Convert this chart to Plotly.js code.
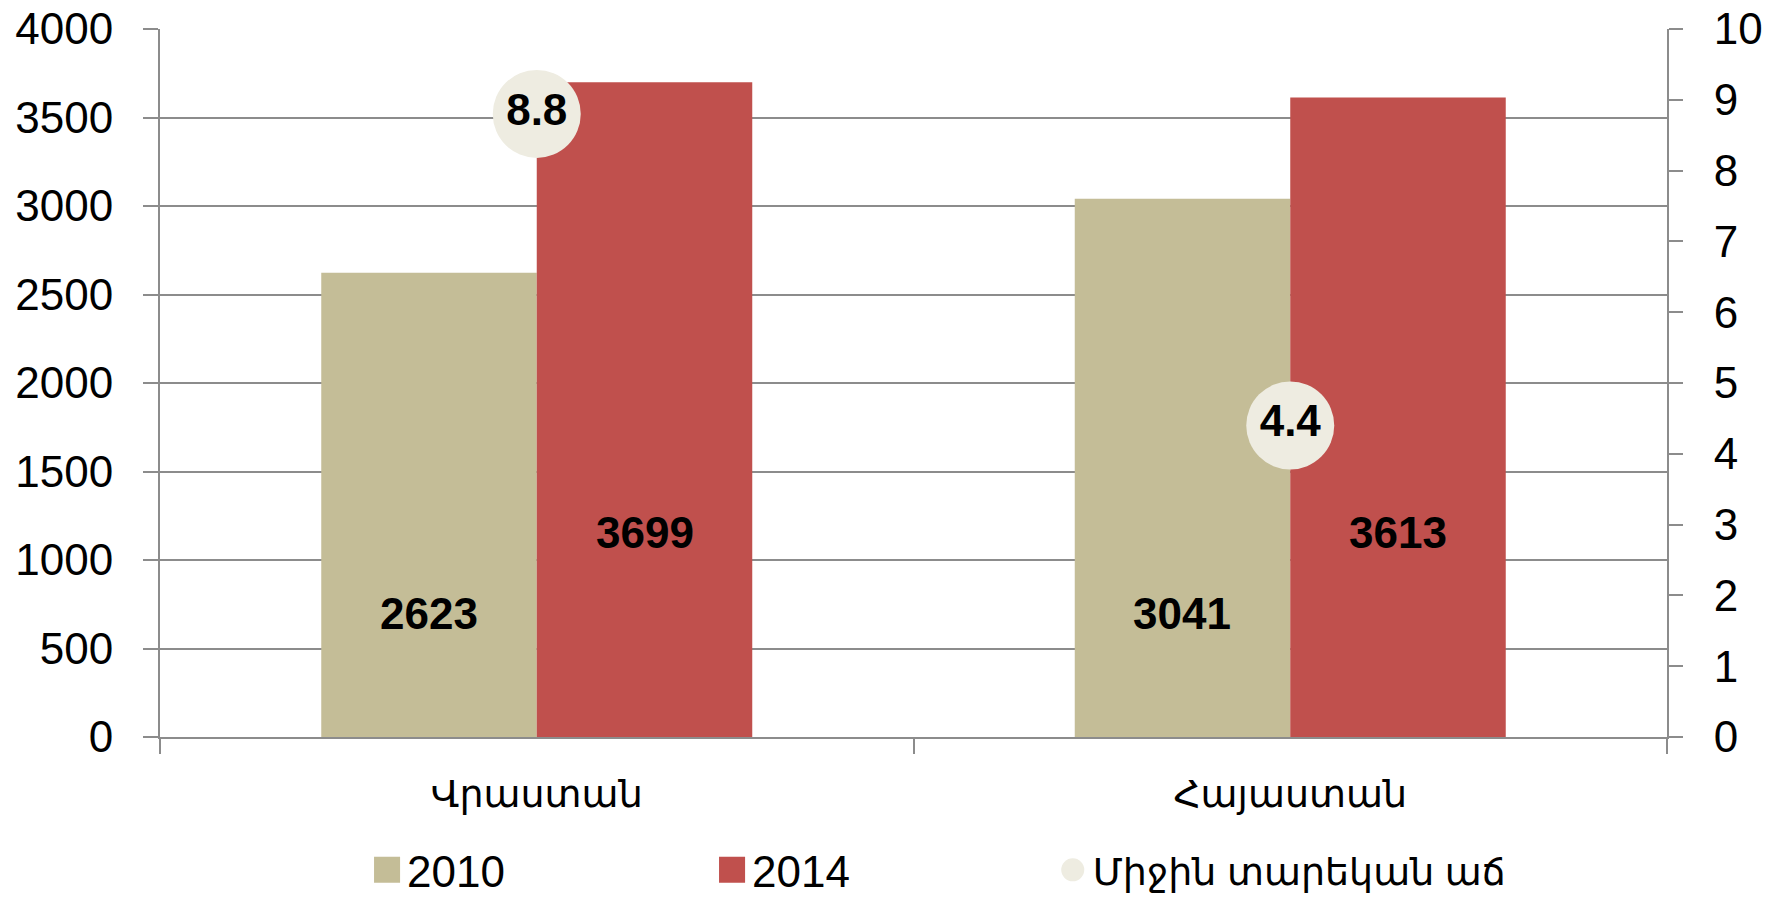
<!DOCTYPE html>
<html><head><meta charset="utf-8">
<script src="https://cdn.plot.ly/plotly-3.0.1.min.js"></script>
<style>html,body{margin:0;padding:0;background:#fff;} #chart{width:1772px;height:898px;}</style>
</head><body><div id="chart"></div>
<script>
// ---- data ----
const categories = ['Վրաստան', 'Հայաստան'];
const values2010 = [2623, 3041];
const values2014 = [3699, 3613];
const growth = [8.8, 4.4];
const seriesNames = ['2010', '2014', 'Միջին տարեկան աճ'];
const leftTicks = [0, 500, 1000, 1500, 2000, 2500, 3000, 3500, 4000];
const rightTicks = [0, 1, 2, 3, 4, 5, 6, 7, 8, 9, 10];

// ---- style ----
const W = 1772, H = 898;
const FONT = 'Liberation Sans, Arial, DejaVu Sans, sans-serif';
const GRAY = '#8c8c8c';
const C2010 = '#C4BD97', C2014 = '#C0504D', CDOT = '#EEECE1';
const margin = {l: 160, r: 105, t: 29, b: 161, autoexpand: false};
const bargap = 0.428;
const LABEL_LEVEL = {y2010: 700, y2014: 1155}; // where the value labels sit on the left axis
const catWidth = (W - margin.l - margin.r) / categories.length;
const barHalf = catWidth * (1 - bargap) / 4;

const traces = [
  {type: 'bar', name: seriesNames[0], x: categories, y: values2010,
   marker: {color: C2010}, xaxis: 'x', yaxis: 'y', legend: 'legend'},
  {type: 'bar', name: seriesNames[1], x: categories, y: values2014,
   marker: {color: C2014}, xaxis: 'x', yaxis: 'y', legend: 'legend'},
  {type: 'scatter', mode: 'markers', name: seriesNames[2], x: categories, y: growth,
   marker: {color: CDOT, size: 88}, xaxis: 'x', yaxis: 'y2', legend: 'legend2'},
  {type: 'scatter', mode: 'text', showlegend: false, x: categories, y: growth,
   text: growth.map(v => v.toFixed(1)), textposition: 'middle center',
   textfont: {family: FONT, size: 44, color: '#000', weight: 'bold'},
   xaxis: 'x', yaxis: 'y2', hoverinfo: 'skip'}
];

const annotations = [];
categories.forEach((c, i) => {
  annotations.push({x: c, y: LABEL_LEVEL.y2010, xref: 'x', yref: 'y', xshift: -barHalf,
    text: String(values2010[i]), showarrow: false,
    font: {family: FONT, size: 44, color: '#000', weight: 'bold'}});
  annotations.push({x: c, y: LABEL_LEVEL.y2014, xref: 'x', yref: 'y', xshift: barHalf,
    text: String(values2014[i]), showarrow: false,
    font: {family: FONT, size: 44, color: '#000', weight: 'bold'}});
});

const layout = {
  width: W, height: H, margin: margin,
  paper_bgcolor: '#fff', plot_bgcolor: '#fff',
  font: {family: FONT, size: 44, color: '#000'},
  barmode: 'group', bargap: bargap, bargroupgap: 0,
  showlegend: true,
  legend: {orientation: 'h', x: 0.1374, xanchor: 'left', y: -0.188, yanchor: 'middle',
           font: {family: FONT, size: 44, color: '#000'},
           entrywidth: 300, entrywidthmode: 'pixels', traceorder: 'normal'},
  legend2: {orientation: 'h', x: 0.5924, xanchor: 'left', y: -0.188, yanchor: 'middle',
           font: {family: FONT, size: 38, color: '#000'}},
  xaxis: {type: 'category', showline: true, linecolor: GRAY, linewidth: 2, automargin: false,
          ticks: 'outside', tickson: 'boundaries', ticklen: 15, tickcolor: GRAY, tickwidth: 2,
          tickfont: {family: FONT, size: 38, color: '#000'}, ticklabelstandoff: 22,
          showgrid: false, zeroline: false, fixedrange: true},
  yaxis: {range: [0, 4000], tickvals: leftTicks, ticktext: leftTicks.map(String), automargin: false,
          showline: true, linecolor: GRAY, linewidth: 2,
          ticks: 'outside', ticklen: 15, tickcolor: GRAY, tickwidth: 2,
          showgrid: true, gridcolor: GRAY, gridwidth: 2, zeroline: false,
          tickfont: {family: FONT, size: 44, color: '#000'}, ticklabelstandoff: 21},
  yaxis2: {range: [0, 10], tickvals: rightTicks, ticktext: rightTicks.map(String), automargin: false,
           overlaying: 'y', side: 'right', showline: true, linecolor: GRAY, linewidth: 2,
           ticks: 'outside', ticklen: 14, tickcolor: GRAY, tickwidth: 2,
           showgrid: false, zeroline: false,
           tickfont: {family: FONT, size: 44, color: '#000'}, ticklabelstandoff: 22},
  annotations: annotations
};

Plotly.newPlot('chart', traces, layout, {staticPlot: true}).then(() => {
  // enlarge legend swatches to match the reference
  document.querySelectorAll('.legendpoints path').forEach(p => {
    const tr = p.getAttribute('transform') || '';
    const isDot = p.classList.contains('scatterpts');
    p.setAttribute('transform', tr + (isDot ? ' scale(1.44)' : ' scale(2.17)'));
  });
});
</script>
</body></html>
